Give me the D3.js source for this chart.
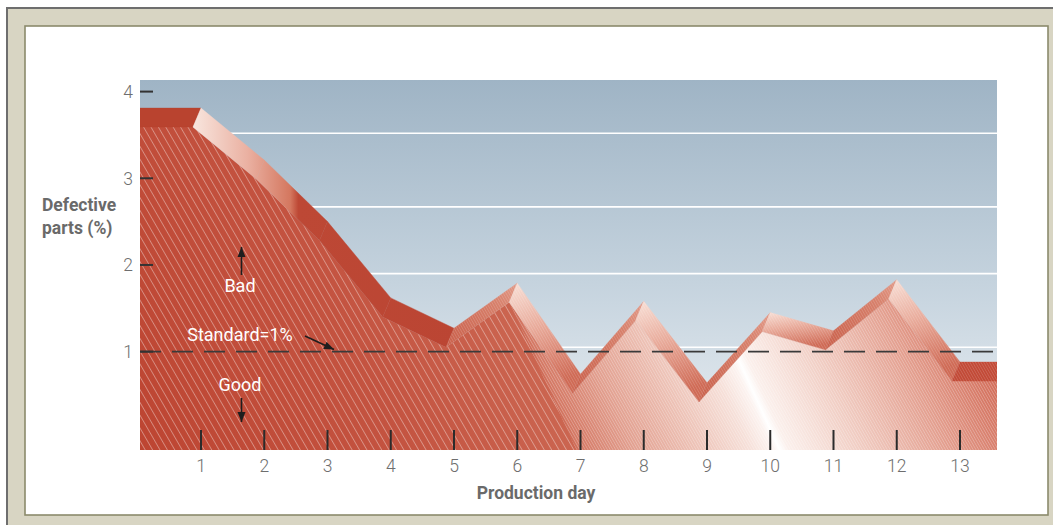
<!DOCTYPE html>
<html><head><meta charset="utf-8">
<script src="https://cdn.jsdelivr.net/npm/d3@7"></script>
<style>
body{margin:0;background:#fff;}
svg{display:block;}
text{font-family:Roboto,"Open Sans","DejaVu Sans",sans-serif;}
</style>
</head><body>
<svg id="chart" width="1053" height="525"></svg>
<script>
// ---------- data ----------
const days = [1,2,3,4,5,6,7,8,9,10,11,12,13];
const defectPct = [3.81,3.21,2.50,1.62,1.27,1.79,0.74,1.58,0.64,1.45,1.24,1.83,0.88];
const yTicks = [1,2,3,4];
const xTicks = [1,2,3,4,5,6,7,8,9,10,11,12,13];
const gridValues = [3.52,2.67,1.90,1.05];
const standardValue = 1;
const yTitleLines = ["Defective","parts (%)"];
const xTitle = "Production day";
const noteBad = "Bad";
const noteStandard = "Standard=1%";
const noteGood = "Good";

// ---------- layout ----------
const svg = d3.select("#chart");
const plot = {l:140, r:997, t:80, b:450};
const x = d3.scaleLinear().domain([0,13]).range([137.75,960]);
const y = d3.scaleLinear().domain([0,4]).range([438.3,91.6]);
const depth = {dx:8, dy:-19};   // extrusion of the ribbon (back = front + depth)

const defs = svg.append("defs");

// frame
svg.append("rect").attr("x",7).attr("y",8).attr("width",1080).attr("height",540)
  .attr("fill","#d8d5c3").attr("stroke","#6e6e6e").attr("stroke-width",2);
svg.append("rect").attr("x",25).attr("y",26).attr("width",1023).attr("height",489)
  .attr("fill","#fff").attr("stroke","#8b8a6c").attr("stroke-width",1.6);

// gradients
const bg = defs.append("linearGradient").attr("id","bgGrad").attr("x1",0).attr("y1",0).attr("x2",0).attr("y2",1);
bg.append("stop").attr("offset",0).attr("stop-color","#9fb4c5");
bg.append("stop").attr("offset",0.55).attr("stop-color","#c5d3de");
bg.append("stop").attr("offset",1).attr("stop-color","#e9eef2");

const fg = defs.append("linearGradient").attr("id","faceGrad").attr("gradientUnits","userSpaceOnUse")
  .attr("x1",140).attr("y1",450).attr("x2",885).attr("y2",112);
[[0,"#bd4532"],[0.30,"#c45441"],[0.485,"#cb6550"],[0.49,"#d47864"],[0.55,"#e2a090"],
 [0.62,"#edc2b6"],[0.68,"#f6e0d9"],[0.705,"#fcf3f0"],[0.712,"#ffffff"],[0.722,"#fbf0ec"],
 [0.80,"#f1cec4"],[0.90,"#e39e8e"],[1,"#d06652"]]
 .forEach(s=>fg.append("stop").attr("offset",s[0]).attr("stop-color",s[1]));

const lbg = defs.append("linearGradient").attr("id","leftBevel").attr("gradientUnits","userSpaceOnUse")
  .attr("x1",195).attr("y1",0).attr("x2",460).attr("y2",0);
[[0,"#f8e4dc"],[0.2,"#eab0a1"],[0.36,"#d4775f"],[0.39,"#bd4835"],[1,"#bb4533"]]
 .forEach(s=>lbg.append("stop").attr("offset",s[0]).attr("stop-color",s[1]));

const rbg = defs.append("linearGradient").attr("id","litBevel").attr("x1",0).attr("y1",0).attr("x2",0.25).attr("y2",1);
[[0,"#f8e0d7"],[0.45,"#e9ac9c"],[1,"#cf6a55"]]
 .forEach(s=>rbg.append("stop").attr("offset",s[0]).attr("stop-color",s[1]));

const riseG = defs.append("linearGradient").attr("id","riseBevel").attr("x1",0).attr("y1",1).attr("x2",1).attr("y2",0);
[[0,"#c95f4a"],[0.7,"#d7806b"],[1,"#e29a88"]]
 .forEach(s=>riseG.append("stop").attr("offset",s[0]).attr("stop-color",s[1]));

// hatch patterns
function hatch(id, w, op, sw){
  const p = defs.append("pattern").attr("id",id).attr("patternUnits","userSpaceOnUse")
    .attr("width",w).attr("height",20).attr("patternTransform","rotate(-30)");
  p.append("line").attr("x1",w/2).attr("y1",-1).attr("x2",w/2).attr("y2",21)
    .attr("stroke","#fff").attr("stroke-opacity",op).attr("stroke-width",sw);
}
hatch("coarse",6.4,0.45,0.8);
hatch("fine",2.4,0.35,0.7);

// clip paths
defs.append("clipPath").attr("id","plotClip").append("rect")
  .attr("x",plot.l).attr("y",plot.t).attr("width",plot.r-plot.l).attr("height",plot.b-plot.t);

// ribbon geometry
const pts = days.map((d,i)=>({d, v:defectPct[i]}));
const ext = [{d:x.invert(plot.l-30), v:pts[0].v}, ...pts, {d:x.invert(plot.r+40), v:pts[pts.length-1].v}];
const bx = p=>x(p.d), by = p=>y(p.v);
const fx = p=>x(p.d)-depth.dx, fy = p=>y(p.v)-depth.dy;

const area = d3.area().x(fx).y0(plot.b).y1(fy);
defs.append("clipPath").attr("id","faceClip").append("path").attr("d",area(ext));

// boundary between the shaded left part and the lit right part runs through the day-6 front peak
const peak = pts[5];
const P = [fx(peak), fy(peak)], dir = [68,150];
const atY = yy => P[0] + (yy-P[1])*dir[0]/dir[1];
defs.append("clipPath").attr("id","leftClip").append("polygon")
  .attr("points",[[plot.l-50,plot.t-50],[atY(plot.t-50),plot.t-50],[atY(plot.b+50),plot.b+50],[plot.l-50,plot.b+50]].join(" "));
defs.append("clipPath").attr("id","rightClip").append("polygon")
  .attr("points",[[atY(plot.t-50),plot.t-50],[plot.r+50,plot.t-50],[plot.r+50,plot.b+50],[atY(plot.b+50),plot.b+50]].join(" "));

const g = svg.append("g").attr("clip-path","url(#plotClip)");
g.append("rect").attr("x",plot.l).attr("y",plot.t).attr("width",plot.r-plot.l).attr("height",plot.b-plot.t)
  .attr("fill","url(#bgGrad)");
g.selectAll(".grid").data(gridValues).join("line")
  .attr("x1",plot.l).attr("x2",plot.r).attr("y1",d=>y(d)).attr("y2",d=>y(d))
  .attr("stroke","#fff").attr("stroke-width",1.6);

// front face
g.append("path").attr("d",area(ext)).attr("fill","url(#faceGrad)");
const hg = g.append("g").attr("clip-path","url(#faceClip)");
hg.append("g").attr("clip-path","url(#leftClip)").append("rect")
  .attr("x",plot.l).attr("y",plot.t).attr("width",plot.r-plot.l).attr("height",plot.b-plot.t).attr("fill","url(#coarse)");
hg.append("g").attr("clip-path","url(#rightClip)").append("rect")
  .attr("x",plot.l).attr("y",plot.t).attr("width",plot.r-plot.l).attr("height",plot.b-plot.t).attr("fill","url(#fine)");

// bevel (top) faces
const segs = d3.pairs(ext);
function bevelFill(a,b){
  const dv = b.v - a.v;
  if (Math.abs(dv) < 0.02) return a.d < 5 ? "#b9432f" : "#c24a37";
  if (dv > 0) return "url(#riseBevel)";
  return b.d <= 5 ? "url(#leftBevel)" : "url(#litBevel)";
}
const bev = g.append("g");
bev.selectAll("path").data(segs).join("path")
  .attr("d",([a,b])=>`M${bx(a)},${by(a)}L${bx(b)},${by(b)}L${fx(b)},${fy(b)}L${fx(a)},${fy(a)}Z`)
  .attr("fill",([a,b])=>bevelFill(a,b))
  .attr("stroke",([a,b])=>bevelFill(a,b)).attr("stroke-width",0.4);
bev.selectAll("path.h").data(segs.filter(([a])=>a.d>=5)).join("path").attr("class","h")
  .attr("d",([a,b])=>`M${bx(a)},${by(a)}L${bx(b)},${by(b)}L${fx(b)},${fy(b)}L${fx(a)},${fy(a)}Z`)
  .attr("fill","url(#fine)").attr("opacity",0.6);

// x ticks (inside plot)
g.selectAll(".xt").data(xTicks).join("line")
  .attr("x1",d=>x(d)).attr("x2",d=>x(d)).attr("y1",430).attr("y2",plot.b)
  .attr("stroke","#2b2b2b").attr("stroke-width",2);

// standard line
svg.append("line").attr("x1",plot.l).attr("x2",plot.r).attr("y1",y(standardValue)).attr("y2",y(standardValue))
  .attr("stroke","#3a3a3a").attr("stroke-width",1.6).attr("stroke-dasharray","21 11");

// y ticks
svg.selectAll(".yt").data(yTicks).join("line")
  .attr("x1",plot.l).attr("x2",plot.l+13).attr("y1",d=>y(d)).attr("y2",d=>y(d))
  .attr("stroke","#333").attr("stroke-width",2);
svg.selectAll(".yl").data(yTicks).join("text")
  .attr("x",133).attr("y",d=>y(d)).attr("dy","0.36em").attr("text-anchor","end")
  .attr("font-size",17.5).attr("font-weight",300).attr("fill","#6e6e6e").text(d=>d);
svg.selectAll(".xl").data(xTicks).join("text")
  .attr("x",d=>x(d)).attr("y",472).attr("text-anchor","middle")
  .attr("font-size",17.5).attr("font-weight",300).attr("fill","#6e6e6e").text(d=>d);

// titles
svg.selectAll(".yti").data(yTitleLines).join("text")
  .attr("x",42).attr("y",(d,i)=>211+i*22.5).attr("font-size",17.5).attr("font-weight",700)
  .attr("fill","#6a6a6a").text(d=>d);
svg.append("text").attr("x",536).attr("y",499).attr("text-anchor","middle")
  .attr("font-size",17.5).attr("font-weight",700).attr("fill","#6a6a6a").text(xTitle);

// annotations
const mk = defs.append("marker").attr("id","arr").attr("markerUnits","userSpaceOnUse")
  .attr("viewBox","0 -5 10 10").attr("refX",10).attr("refY",0)
  .attr("markerWidth",10).attr("markerHeight",10).attr("orient","auto");
mk.append("path").attr("d","M0,-4L10,0L0,4Z").attr("fill","#1e1e1e");
const ann = svg.append("g");
function arrow(x1,y1,x2,y2){
  ann.append("line").attr("x1",x1).attr("y1",y1).attr("x2",x2).attr("y2",y2)
    .attr("stroke","#1e1e1e").attr("stroke-width",1.6).attr("marker-end","url(#arr)");
}
arrow(241.5,275,241.5,247);
arrow(241.5,398,241.5,422);
arrow(305,336,334,349.5);
ann.append("text").attr("x",240).attr("y",292).attr("text-anchor","middle").attr("font-size",18)
  .attr("fill","#fff").text(noteBad);
ann.append("text").attr("x",240).attr("y",341).attr("text-anchor","middle").attr("font-size",18)
  .attr("fill","#fff").text(noteStandard);
ann.append("text").attr("x",240).attr("y",391).attr("text-anchor","middle").attr("font-size",18)
  .attr("fill","#fff").text(noteGood);
</script>
</body></html>
